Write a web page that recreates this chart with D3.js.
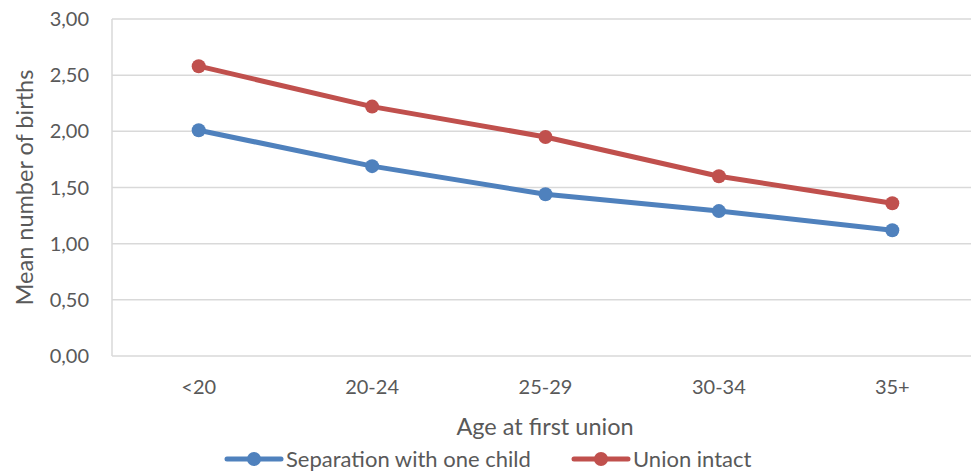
<!DOCTYPE html>
<html>
<head>
<meta charset="utf-8">
<script src="https://cdn.jsdelivr.net/npm/d3@7"></script>
<style>
  html, body { margin: 0; padding: 0; background: #fff; }
  svg text { font-family: Lato, "Open Sans", "Liberation Sans", sans-serif; fill: #595959; }
</style>
</head>
<body>
<svg id="chart" width="971" height="474"></svg>
<script>
// Age groups at first union
const categories = ["<20", "20-24", "25-29", "30-34", "35+"];
// Mean number of births by series
const separationOneChild = [2.01, 1.69, 1.44, 1.29, 1.12];
const unionIntact = [2.58, 2.22, 1.95, 1.60, 1.36];
const seriesNames = ["Separation with one child", "Union intact"];
const yTicks = [0, 0.5, 1, 1.5, 2, 2.5, 3];

const colors = ["#4F81BD", "#C0504D"];
const series = [separationOneChild, unionIntact];

const svg = d3.select("#chart");
const plot = { left: 112, right: 979, top: 19, bottom: 356 };

const x = d3.scaleBand().domain(categories).range([plot.left, plot.right]);
const y = d3.scaleLinear().domain([0, 3]).range([plot.bottom, plot.top]);
const fmt = v => d3.format(".2f")(v).replace(".", ",");

// Horizontal gridlines
svg.append("g")
  .selectAll("line")
  .data(yTicks)
  .join("line")
  .attr("x1", plot.left).attr("x2", 971)
  .attr("y1", d => y(d)).attr("y2", d => y(d))
  .attr("stroke", "#d9d9d9").attr("stroke-width", 1.5);

// Vertical axis line
svg.append("line")
  .attr("x1", plot.left).attr("x2", plot.left)
  .attr("y1", plot.top).attr("y2", plot.bottom)
  .attr("stroke", "#d9d9d9").attr("stroke-width", 1.5);

// Y tick labels
svg.append("g")
  .selectAll("text")
  .data(yTicks)
  .join("text")
  .attr("x", 89).attr("y", d => y(d))
  .attr("dy", "0.35em")
  .attr("text-anchor", "end")
  .attr("font-size", 20)
  .text(fmt);

// X tick labels
svg.append("g")
  .selectAll("text")
  .data(categories)
  .join("text")
  .attr("x", d => x(d) + x.bandwidth() / 2)
  .attr("y", 387)
  .attr("dy", "0.35em")
  .attr("text-anchor", "middle")
  .attr("font-size", 20)
  .text(d => d);

// Axis titles
svg.append("text")
  .attr("transform", `translate(25,${(plot.top + plot.bottom) / 2}) rotate(-90)`)
  .attr("text-anchor", "middle")
  .attr("dy", "0.35em")
  .attr("font-size", 23.5)
  .text("Mean number of births");

svg.append("text")
  .attr("x", 545).attr("y", 427)
  .attr("dy", "0.35em")
  .attr("text-anchor", "middle")
  .attr("font-size", 23.5)
  .text("Age at first union");

// Lines and markers
const line = d3.line()
  .x((d, i) => x(categories[i]) + x.bandwidth() / 2)
  .y(d => y(d));

series.forEach((vals, s) => {
  const g = svg.append("g");
  g.append("path")
    .datum(vals)
    .attr("d", line)
    .attr("fill", "none")
    .attr("stroke", colors[s])
    .attr("stroke-width", 5)
    .attr("stroke-linejoin", "round")
    .attr("stroke-linecap", "round");
  g.selectAll("circle")
    .data(vals)
    .join("circle")
    .attr("cx", (d, i) => x(categories[i]) + x.bandwidth() / 2)
    .attr("cy", d => y(d))
    .attr("r", 7)
    .attr("fill", colors[s]);
});

// Legend
const legendX = [227, 574];
const legend = svg.append("g");
seriesNames.forEach((name, s) => {
  const lx = legendX[s];
  const ly = 459;
  legend.append("line")
    .attr("x1", lx).attr("x2", lx + 54)
    .attr("y1", ly).attr("y2", ly)
    .attr("stroke", colors[s]).attr("stroke-width", 5)
    .attr("stroke-linecap", "round");
  legend.append("circle")
    .attr("cx", lx + 27).attr("cy", ly).attr("r", 7)
    .attr("fill", colors[s]);
  legend.append("text")
    .attr("x", lx + 59).attr("y", ly)
    .attr("dy", "0.35em")
    .attr("font-size", 22)
    .text(name);
});
</script>
</body>
</html>
